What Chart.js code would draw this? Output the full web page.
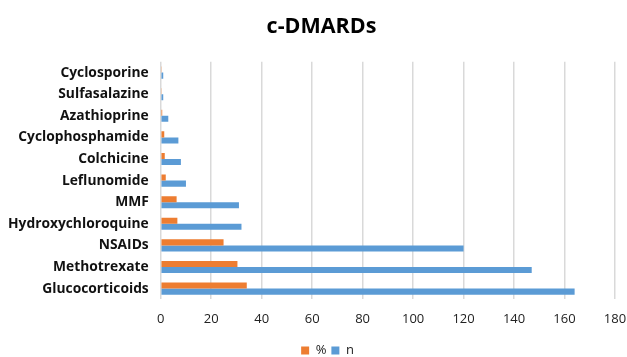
<!DOCTYPE html>
<html><head><meta charset="utf-8">
<script src="https://cdn.jsdelivr.net/npm/chart.js@4/dist/chart.umd.min.js"></script>
<style>html,body{margin:0;padding:0;background:#fff}#wrap{width:627px;height:357px;position:relative}</style>
</head><body><div id="wrap"><canvas id="c" width="627" height="357"></canvas></div>
<script>
const categories = ["Cyclosporine","Sulfasalazine","Azathioprine","Cyclophosphamide","Colchicine","Leflunomide","MMF","Hydroxychloroquine","NSAIDs","Methotrexate","Glucocorticoids"];
const pctValues = [0.2,0.2,0.6,1.4,1.6,2.0,6.3,6.6,24.9,30.4,34.1];
const nValues = [1,1,3,7,8,10,31,32,120,147,164];
const xTicks = [0,20,40,60,80,100,120,140,160,180];

const shiftBlocks = {
  id: 'shiftBlocks',
  afterLayout(chart) {
    if (chart.titleBlock) { chart.titleBlock.left += 16; chart.titleBlock.right += 16; }
    if (chart.legend) { chart.legend.left += 22; chart.legend.right += 22; }
  }
};

new Chart(document.getElementById('c'), {
  type: 'bar',
  data: {
    labels: categories,
    datasets: [
      {label: '%', data: pctValues, backgroundColor: '#ED7D31', categoryPercentage: 0.56, barPercentage: 1.0},
      {label: 'n', data: nValues, backgroundColor: '#5B9BD5', categoryPercentage: 0.56, barPercentage: 1.0}
    ]
  },
  plugins: [shiftBlocks],
  options: {
    indexAxis: 'y',
    responsive: false,
    animation: false,
    layout: {padding: {left: -4, right: 12, top: 0, bottom: -10}},
    plugins: {
      title: {display: true, text: 'c-DMARDs', color: '#000', font: {family: 'Open Sans', size: 21.5, weight: 'bold'}, padding: {top: 14, bottom: 22}},
      legend: {position: 'bottom', labels: {boxWidth: 8, boxHeight: 8, color: '#222', font: {family: 'Open Sans', size: 13}, padding: 5}},
      tooltip: {enabled: false}
    },
    scales: {
      x: {
        min: 0, max: 180,
        afterBuildTicks: (ax) => { ax.ticks = xTicks.map(v => ({value: v})); },
        afterFit: (s) => { s.paddingRight = 0; s.paddingLeft = 0; },
        grid: {color: '#d9d9d9', lineWidth: 1.5, drawTicks: false},
        border: {display: false},
        ticks: {color: '#222', font: {family: 'Open Sans', size: 13}, padding: 12}
      },
      y: {
        grid: {display: false, drawTicks: false},
        border: {display: false},
        ticks: {color: '#111', font: {family: 'Open Sans', size: 13.8, weight: 'bold'}, padding: 12}
      }
    }
  }
});
</script></body></html>
